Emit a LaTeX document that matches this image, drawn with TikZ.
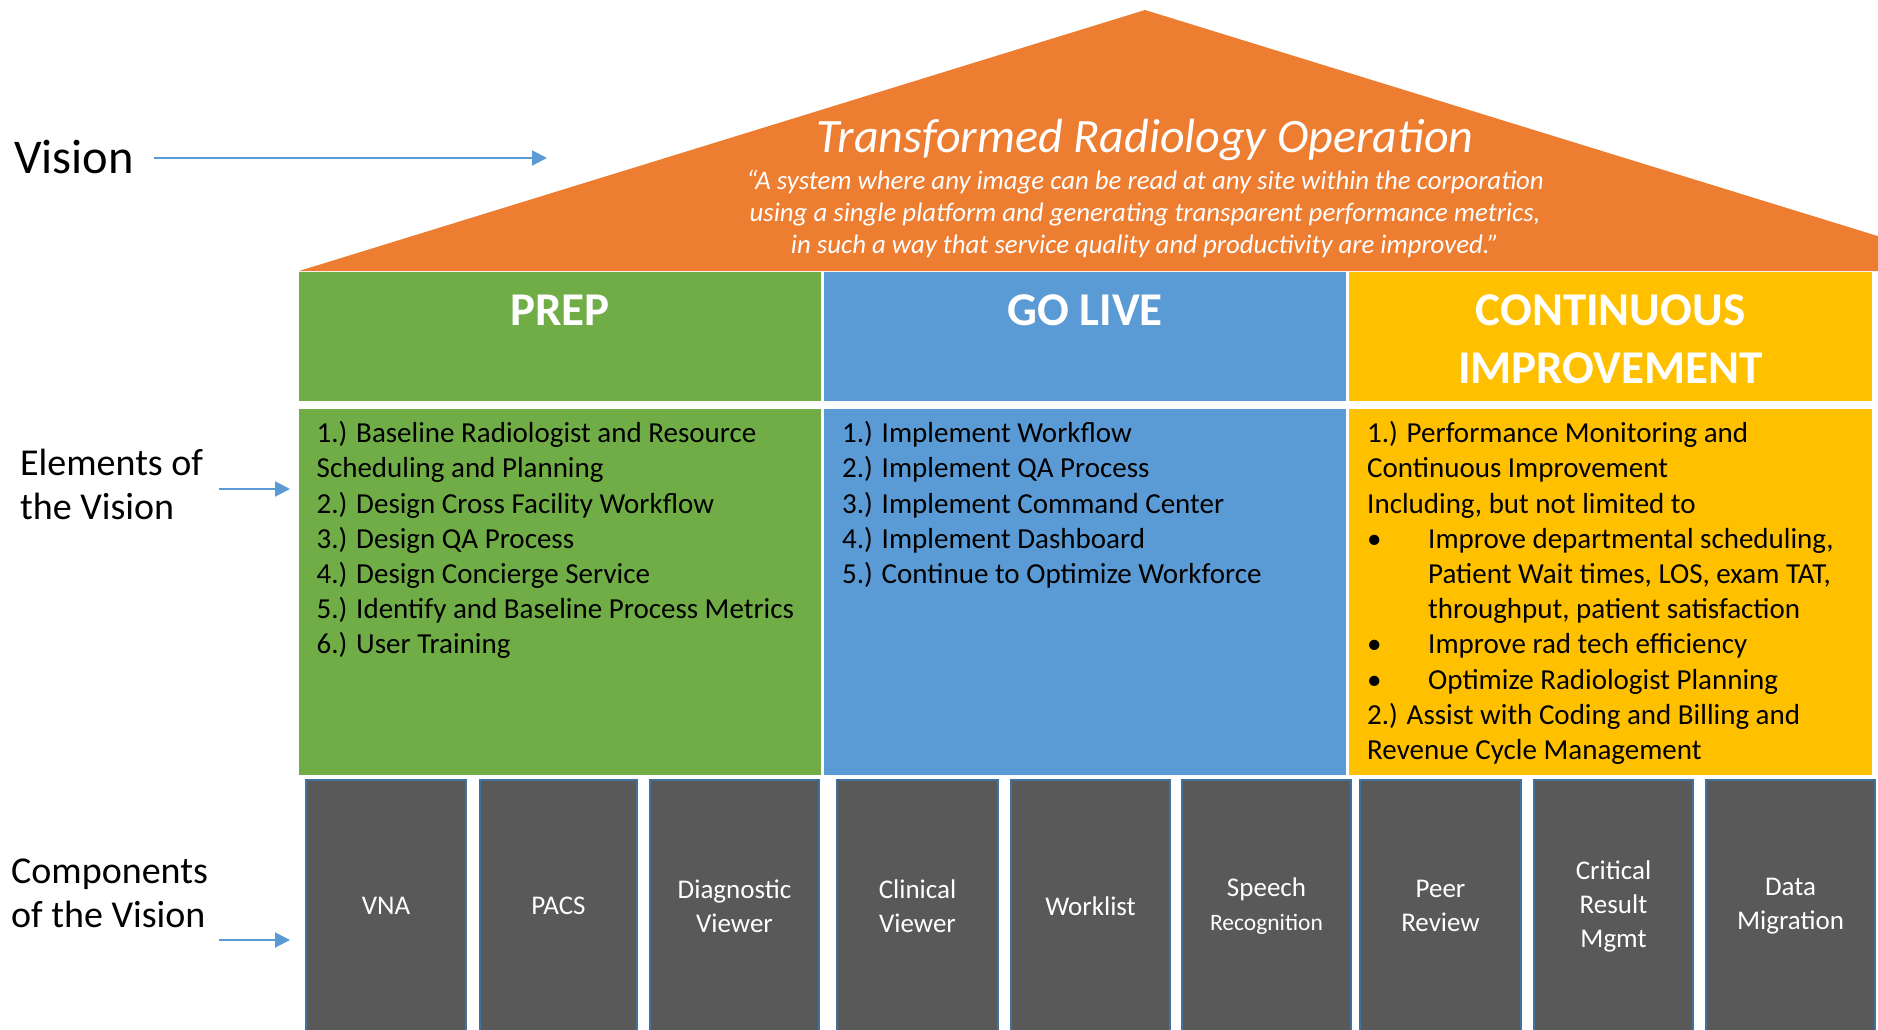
\documentclass[tikz,border=0pt]{standalone}
\usepackage{fontspec}
\setmainfont{Carlito}
\usetikzlibrary{arrows.meta}
\definecolor{roofc}{HTML}{ED7D31}
\definecolor{prepc}{HTML}{70AD47}
\definecolor{livec}{HTML}{5B9BD5}
\definecolor{contc}{HTML}{FFC000}
\definecolor{compc}{HTML}{595959}
\definecolor{compedge}{HTML}{41719C}
\definecolor{arrc}{HTML}{5B9BD5}
\tikzset{
  colbox/.style={draw=none, inner sep=0pt, outer sep=0pt},
  headtxt/.style={text=white, font=\fontsize{47}{57.5}\selectfont\bfseries, align=center, inner sep=0pt},
  bodytxt/.style={text=black, font=\fontsize{29}{35.2}\selectfont, align=left, inner sep=0pt},
  comp/.style={draw=compedge, line width=2.5pt, fill=compc, minimum height=252pt, text=white, align=center, font=\fontsize{27}{34}\selectfont, inner sep=0pt, outer sep=0pt},
  sidelbl/.style={text=black, align=left, inner sep=0pt, font=\fontsize{38}{44}\selectfont},
  arr/.style={draw=arrc, line width=2pt, -{Triangle[length=15pt,width=15pt]}}
}
\begin{document}
\begin{tikzpicture}[x=1pt,y=-1pt]
\useasboundingbox (0,0) rectangle (1878,1029);
\begin{scope}
\clip (0,0) rectangle (1878,1029);
% roof
\fill[roofc] (299,271) -- (1145,10) -- (1991,271) -- cycle;
\node[anchor=base, text=white, inner sep=0pt, font=\fontsize{48}{52}\selectfont\itshape] (title) at (1145,152) {Transformed Radiology Operation};
% multi-line nodes: base anchor = baseline of the last line
\node[anchor=base, text=white, inner sep=0pt, align=center, font=\fontsize{26.8}{32}\selectfont\itshape] (quote) at (1145,253) {“A system where any image can be read at any site within the corporation\\using a single platform and generating transparent performance metrics,\\in such a way that service quality and productivity are improved.”};
% header boxes
\node[colbox, fill=prepc, minimum width=522pt, minimum height=129pt] (prephead) at (560,336.5) {};
\node[colbox, fill=livec, minimum width=522pt, minimum height=129pt] (livehead) at (1085,336.5) {};
\node[colbox, fill=contc, minimum width=523pt, minimum height=129pt] (conthead) at (1610.5,336.5) {};
\node[headtxt, anchor=base] (preplbl) at (560,325) {PREP};
\node[headtxt, anchor=base] (livelbl) at (1085,325) {GO LIVE};
\node[headtxt, anchor=base] (contlbl) at (1610.5,383) {CONTINUOUS\\IMPROVEMENT};
% body boxes
\node[colbox, fill=prepc, minimum width=522pt, minimum height=366pt] (prepbody) at (560,592) {};
\node[colbox, fill=livec, minimum width=522pt, minimum height=366pt] (livebody) at (1085,592) {};
\node[colbox, fill=contc, minimum width=523pt, minimum height=366pt] (contbody) at (1610.5,592) {};
\node[bodytxt, anchor=base west] (preptxt) at (316.5,653.9) {1.) Baseline Radiologist and Resource\\Scheduling and Planning\\2.) Design Cross Facility Workflow\\3.) Design QA Process\\4.) Design Concierge Service\\5.) Identify and Baseline Process Metrics\\6.) User Training};
\node[bodytxt, anchor=base west] (livetxt) at (842,583.5) {1.) Implement Workflow\\2.) Implement QA Process\\3.) Implement Command Center\\4.) Implement Dashboard\\5.) Continue to Optimize Workforce};
\node[bodytxt, anchor=base west] (conttxt) at (1367,759.5) {1.) Performance Monitoring and\\Continuous Improvement\\Including, but not limited to\\\makebox[61pt][l]{\textbullet}Improve departmental scheduling,\\\hspace*{61pt}Patient Wait times, LOS, exam TAT,\\\hspace*{61pt}throughput, patient satisfaction\\\makebox[61pt][l]{\textbullet}Improve rad tech efficiency\\\makebox[61pt][l]{\textbullet}Optimize Radiologist Planning\\2.) Assist with Coding and Billing and\\Revenue Cycle Management};
% components
\node[comp, minimum width=160pt] (vna) at (386,906) {VNA};
\node[comp, minimum width=157pt] (pacs) at (558.5,906) {PACS};
\node[comp, minimum width=169pt] (diag) at (734.5,906) {Diagnostic\\Viewer};
\node[comp, minimum width=161pt] (clin) at (917.5,906) {Clinical\\Viewer};
\node[comp, minimum width=159pt] (work) at (1090.5,906) {Worklist};
\node[comp, minimum width=169pt] (speech) at (1266.5,906) {Speech\\{\fontsize{23.5}{28}\selectfont Recognition}};
\node[comp, minimum width=161pt] (peer) at (1440.5,906) {Peer\\Review};
\node[comp, minimum width=159pt] (crit) at (1613.5,906) {Critical\\Result\\Mgmt};
\node[comp, minimum width=169pt] (data) at (1790.5,906) {Data\\Migration};
\end{scope}
% side labels
\node[anchor=base west, inner sep=0pt, text=black, font=\fontsize{48.5}{52}\selectfont] (vision) at (14,173) {Vision};
\node[sidelbl, anchor=base west] (elements) at (20,519) {Elements of\\the Vision};
\node[sidelbl, anchor=base west] (components) at (11,927) {Components\\of the Vision};
\coordinate (visstart) at (154,158);
\coordinate (visend) at (547,158);
\coordinate (elstart) at (219,489);
\coordinate (elend) at (290,489);
\coordinate (costart) at (219,940);
\coordinate (coend) at (290,940);
\draw[arr] (visstart) -- (visend);
\draw[arr] (elstart) -- (elend);
\draw[arr] (costart) -- (coend);
\end{tikzpicture}
\end{document}
